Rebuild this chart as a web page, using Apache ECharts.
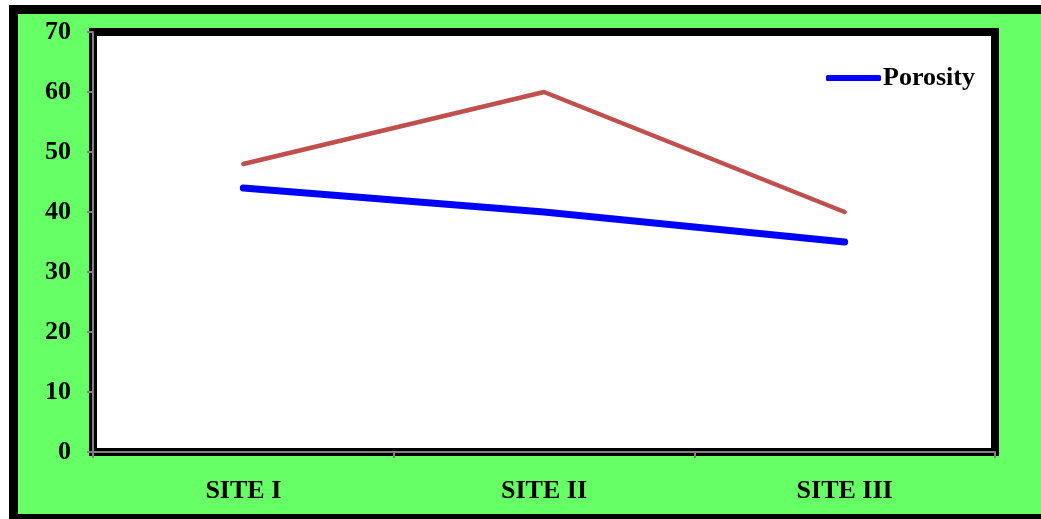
<!DOCTYPE html>
<html>
<head>
<meta charset="utf-8">
<script src="https://cdn.jsdelivr.net/npm/echarts@6/dist/echarts.min.js"></script>
<style>
  html, body { margin: 0; padding: 0; background: #ffffff; }
  #chart { width: 1041px; height: 519px; }
</style>
</head>
<body>
<div id="chart"></div>
<script>
// Site categories and measured values
const categories = ['SITE I', 'SITE II', 'SITE III'];
const porosity = [44, 40, 35];
const series2 = [48, 60, 40];
const yTicks = { min: 0, max: 70, interval: 10 };

const FONT = '"Liberation Serif", "Times New Roman", serif';

const chart = echarts.init(document.getElementById('chart'), null, { renderer: 'canvas' });

chart.setOption({
  backgroundColor: '#ffffff',
  animation: false,
  graphic: [{
    type: 'rect',
    z: -10,
    silent: true,
    shape: { x: 13.5, y: 9.5, width: 1040, height: 509 },
    style: { fill: '#66FF66', stroke: '#000000', lineWidth: 9 }
  }],
  grid: {
    left: 93, right: 46, top: 32, bottom: 67,
    show: true,
    backgroundColor: '#ffffff',
    borderColor: '#000000',
    borderWidth: 8
  },
  legend: {
    left: 821,
    top: 60,
    itemWidth: 55,
    itemHeight: 6,
    itemGap: 10,
    data: [{ name: 'Porosity', icon: 'roundRect' }],
    textStyle: { fontFamily: FONT, fontWeight: 'bold', fontSize: 26, color: '#000000', padding: [0, 0, 0, -3] }
  },
  xAxis: {
    type: 'category',
    data: categories,
    boundaryGap: true,
    axisLine: { show: true, lineStyle: { color: '#808080', width: 2 } },
    axisTick: { show: true, length: 6, lineStyle: { color: '#808080', width: 2 } },
    axisLabel: { margin: 26, fontFamily: FONT, fontWeight: 'bold', fontSize: 26, color: '#000000' },
    splitLine: { show: false }
  },
  yAxis: {
    type: 'value',
    min: yTicks.min,
    max: yTicks.max,
    interval: yTicks.interval,
    axisLine: { show: true, lineStyle: { color: '#808080', width: 2 } },
    axisTick: { show: true, length: 6, lineStyle: { color: '#808080', width: 2 } },
    axisLabel: { margin: 22, fontFamily: FONT, fontWeight: 'bold', fontSize: 26, color: '#000000' },
    splitLine: { show: false }
  },
  series: [
    {
      name: 'Porosity',
      type: 'line',
      data: porosity,
      symbol: 'none',
      color: '#0000FF',
      lineStyle: { color: '#0000FF', width: 7, cap: 'round', join: 'round' },
      z: 3
    },
    {
      name: 'Series 2',
      type: 'line',
      data: series2,
      symbol: 'none',
      color: '#C0504D',
      lineStyle: { color: '#C0504D', width: 4.5, cap: 'round', join: 'round' },
      z: 2
    }
  ]
});
</script>
</body>
</html>
